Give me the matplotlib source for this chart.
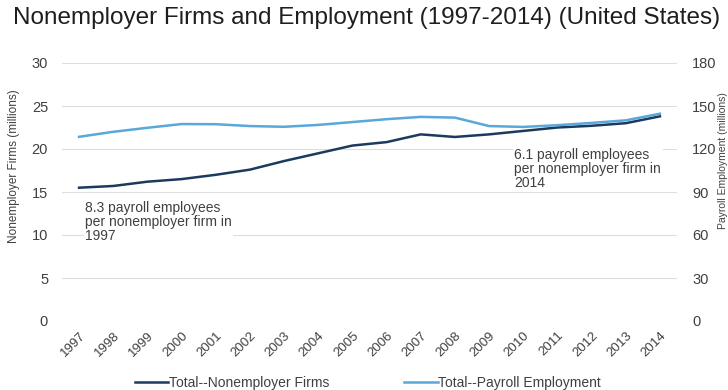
import matplotlib
matplotlib.use("Agg")
import matplotlib.pyplot as plt
from matplotlib.lines import Line2D

plt.rcParams['font.family'] = ['Liberation Sans', 'DejaVu Sans']

years = ['1997', '1998', '1999', '2000', '2001', '2002', '2003', '2004', '2005',
         '2006', '2007', '2008', '2009', '2010', '2011', '2012', '2013', '2014']

# nonemployer firms, millions (left axis)
firms = [15.5, 15.7, 16.2, 16.5, 17.0, 17.6, 18.6, 19.5, 20.4,
         20.8, 21.7, 21.4, 21.7, 22.1, 22.5, 22.7, 23.0, 23.8]

# payroll employment, millions (right axis)
payroll = [128.5, 132.0, 134.8, 137.4, 137.3, 136.0, 135.5, 136.8, 138.8,
           140.8, 142.4, 141.9, 136.0, 135.4, 136.6, 138.2, 140.0, 144.6]

dark = '#1c3a5e'
light = '#5aa7da'
txt = '#404040'

W, H = 728, 390
fig = plt.figure(figsize=(W / 100, H / 100), dpi=100)
ax = fig.add_axes([62 / W, 1 - 321 / H, 615 / W, 258 / H])
ax2 = ax.twinx()

x = list(range(len(years)))
ax.plot(x, firms, color=dark, lw=1.8, zorder=3)
ax2.plot(x, payroll, color=light, lw=1.8, zorder=3)

ax.set_xlim(-0.5, len(years) - 0.5)
ax.set_ylim(0, 30)
ax.set_yticks(range(0, 31, 5))
ax2.set_ylim(0, 180)
ax2.set_yticks(range(0, 181, 30))

ax.grid(axis='y', color='#dedede', lw=0.8, zorder=0)
ax.set_axisbelow(True)
for a in (ax, ax2):
    for s in a.spines.values():
        s.set_visible(False)
    a.tick_params(length=0, labelsize=10.5, labelcolor=txt)
ax.tick_params(axis='y', pad=10)
ax2.tick_params(axis='y', pad=11)

ax.set_xticks(x)
ax.set_xticklabels(years, rotation=45, ha='right', rotation_mode='anchor', fontsize=9.5)
ax.tick_params(axis='x', pad=6)

ax.set_ylabel('Nonemployer Firms (millions)', fontsize=8.5, color=txt)
ax.yaxis.set_label_coords(-0.068, 0.60)
# right-hand axis title squeezed against the figure edge
fig.text(1.0, 1 - 161 / H, 'Payroll Employment (millions)', fontsize=7.5,
         color=txt, rotation=90, ha='right', va='center')

ax.text(0.18, 13.9, '8.3 payroll employees\nper nonemployer firm in\n1997',
        fontsize=10, color=txt, va='top', ha='left', linespacing=1.0,
        bbox=dict(facecolor='white', edgecolor='none', pad=1), zorder=4)
ax.text(12.74, 20.1, '6.1 payroll employees\nper nonemployer firm in\n2014',
        fontsize=10, color=txt, va='top', ha='left', linespacing=1.0,
        bbox=dict(facecolor='white', edgecolor='none', pad=1), zorder=4)

fig.text(13 / W, 1 - 18 / H, 'Nonemployer Firms and Employment (1997-2014) (United States)',
         fontsize=17.5, color='#1e1e1e', va='center', ha='left')

handles = [Line2D([], [], color=dark, lw=1.8), Line2D([], [], color=light, lw=1.8)]
fig.legend(handles, ['Total--Nonemployer Firms', 'Total--Payroll Employment'],
           loc='center left', bbox_to_anchor=(135 / W, 1 - 383 / H), ncol=2,
           frameon=False, fontsize=10, handlelength=2.4, handletextpad=0.05,
           columnspacing=5.4, borderpad=0, borderaxespad=0, labelcolor=txt)

fig.savefig('out.png', dpi=100)
